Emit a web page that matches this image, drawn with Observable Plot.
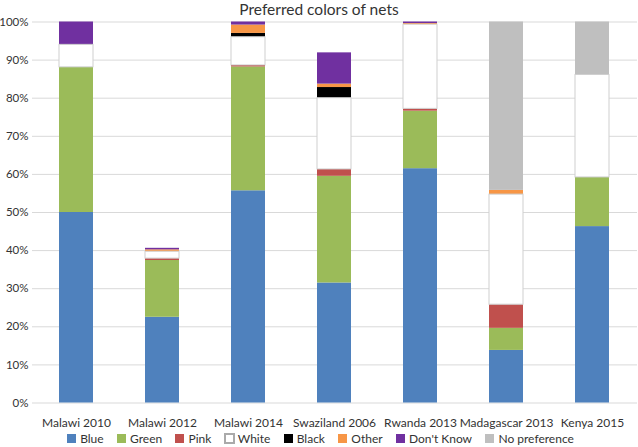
<!DOCTYPE html>
<html><head><meta charset="utf-8">
<script src="https://cdn.jsdelivr.net/npm/d3@7"></script>
<script src="https://cdn.jsdelivr.net/npm/@observablehq/plot@0.6"></script>
<style>
body{margin:0;background:#fff;font-family:Lato,"Open Sans",sans-serif;}
#wrap{position:relative;width:638px;height:447px;overflow:hidden;}
#title{position:absolute;top:0;left:0;width:638px;text-align:center;font-size:15.5px;line-height:18px;color:#333;}
#legend{position:absolute;top:422px;left:8px;width:638px;display:flex;justify-content:center;}
#legend [class$="-swatch"]{margin-right:1.1em;}
#legend [class$="-swatch"] svg{margin-right:0.35em;}
</style></head><body>
<div id="wrap"><div id="chart"></div><div id="title">Preferred colors of nets</div><div id="legend"></div></div>
<script>
const countries = ["Malawi 2010","Malawi 2012","Malawi 2014","Swaziland 2006","Rwanda 2013","Madagascar 2013","Kenya 2015"];
const seriesNames = ["Blue","Green","Pink","White","Black","Other","Don't Know","No preference"];
const seriesColors = ["#4f81bd","#9bbb59","#c0504d","#ffffff","#000000","#f79646","#7030a0","#bfbfbf"];
const blue     = [50.0, 22.5, 55.7, 31.5, 61.5, 13.8, 46.3];
const green    = [38.1, 14.9, 32.5, 28.0, 15.1,  5.8, 12.9];
const pink     = [ 0.0,  0.5,  0.4,  1.8,  0.6,  6.2,  0.0];
const white    = [ 5.9,  1.8,  7.4, 18.7, 22.1, 28.9, 26.9];
const black    = [ 0.0,  0.0,  1.0,  2.8,  0.0,  0.0,  0.0];
const other    = [ 0.0,  0.5,  2.2,  0.9,  0.3,  1.1,  0.0];
const dontKnow = [ 6.0,  0.4,  0.8,  8.2,  0.4,  0.0,  0.0];
const noPref   = [ 0.0,  0.0,  0.0,  0.0,  0.0, 44.2, 13.9];
const yTicks = [0,10,20,30,40,50,60,70,80,90,100];

const seriesValues = [blue, green, pink, white, black, other, dontKnow, noPref];
const rows = [];
countries.forEach((c, i) => seriesNames.forEach((s, j) => rows.push({country: c, series: s, value: seriesValues[j][i]})));

const font = "Lato, 'Open Sans', sans-serif";
const plot = Plot.plot({
  width: 638, height: 431,
  marginTop: 21.5, marginBottom: 28.5, marginLeft: 32, marginRight: 1,
  style: {fontFamily: font, fontSize: "11.5px", color: "#333", background: "white", overflow: "visible"},
  x: {domain: countries, paddingInner: 0.6, paddingOuter: 0.3, label: null, tickSize: 0, tickPadding: 15},
  y: {domain: [0, 100], ticks: yTicks, tickFormat: d => d + "%", label: null, tickSize: 0, tickPadding: 4},
  color: {domain: seriesNames, range: seriesColors},
  marks: [
    Plot.ruleY(yTicks, {stroke: "#d9d9d9", strokeWidth: 1}),
    Plot.barY(rows, {x: "country", y: "value", fill: "series"}),
    Plot.barY(rows, {x: "country", y: "value", fill: "none", stroke: "#cfcfcf", strokeWidth: 1,
      strokeOpacity: d => d.series === "White" ? 1 : 0})
  ]
});
plot.querySelectorAll("g[aria-label='x-axis tick label'] text, g[aria-label='x-axis'] text").forEach(t => t.style.fontSize = "12px");
document.getElementById("chart").appendChild(plot);

const lg = Plot.legend({color: {domain: seriesNames, range: seriesColors}, swatchSize: 9});
lg.style.fontFamily = font;
lg.style.fontSize = "12px";
lg.style.color = "#333";
lg.style.margin = "0";
lg.querySelectorAll("svg").forEach(s => {
  if ((s.getAttribute("fill") || "").toLowerCase() === "#ffffff") {
    const r = s.querySelector("rect"); if (r) { r.setAttribute("stroke", "#aaa"); r.setAttribute("stroke-width", "2"); }
  }
});
document.getElementById("legend").appendChild(lg);
</script>
</body></html>
